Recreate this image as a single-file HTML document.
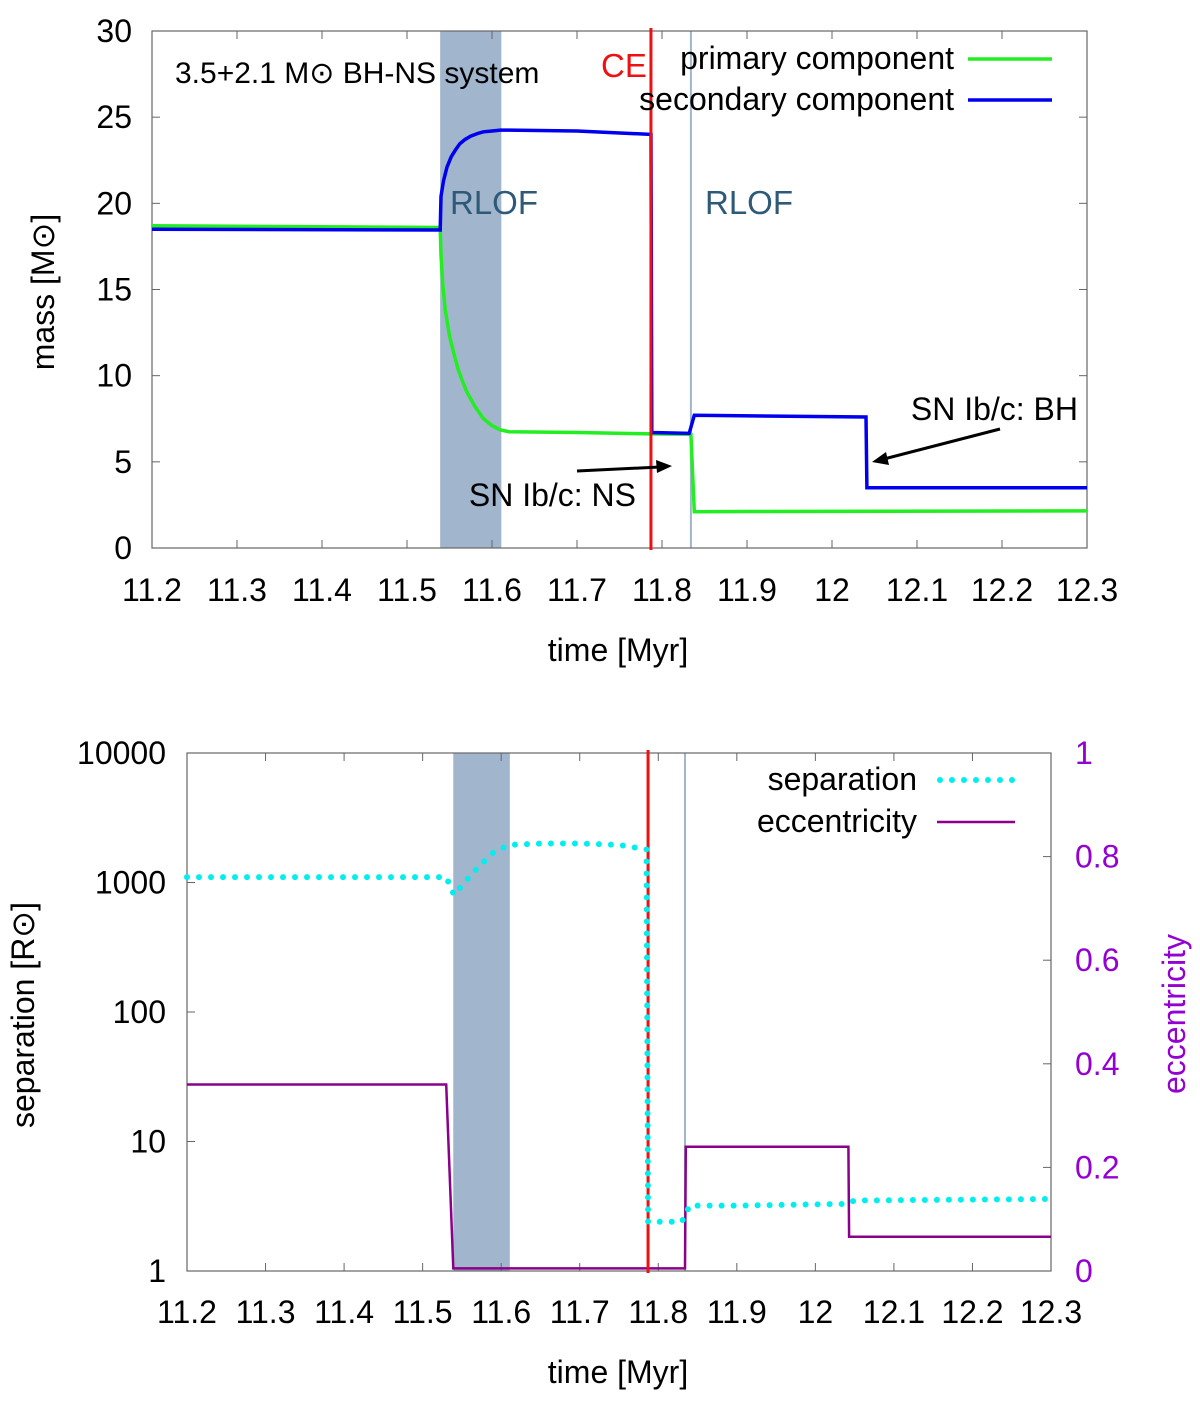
<!DOCTYPE html>
<html><head><meta charset="utf-8"><style>
body{margin:0;background:#fff}
svg text{font-family:"Liberation Sans",sans-serif}
</style></head><body>
<svg id="s" width="1200" height="1399" xmlns="http://www.w3.org/2000/svg"></svg>
<script>
// ---- data ----
const xTicks=[11.2,11.3,11.4,11.5,11.6,11.7,11.8,11.9,12,12.1,12.2,12.3];
const massTicks=[0,5,10,15,20,25,30];
const sepTicks=[1,10,100,1000,10000];
const eccTicks=[0,0.2,0.4,0.6,0.8,1];
const rlof1=[11.539,11.611];
const rlof2=11.834;
const ceTime=11.787;
const primT=[11.2,11.539,11.540,11.542,11.545,11.55,11.555,11.56,11.565,11.57,11.58,11.59,11.6,11.61,11.62,11.7,11.787,11.834,11.838,11.9,12.3];
const primM=[18.7,18.6,17.0,15.3,13.8,12.3,11.3,10.4,9.7,9.1,8.2,7.5,7.1,6.85,6.75,6.7,6.62,6.6,2.1,2.12,2.15];
const secT=[11.2,11.539,11.540,11.543,11.547,11.552,11.557,11.562,11.568,11.575,11.583,11.59,11.6,11.61,11.62,11.7,11.787,11.788,11.832,11.838,12.04,12.041,12.3];
const secM=[18.5,18.45,20.4,21.3,22.1,22.7,23.1,23.45,23.7,23.9,24.05,24.15,24.2,24.25,24.25,24.2,24.0,6.7,6.65,7.7,7.6,3.5,3.5];
const sepT=[11.2,11.53,11.54,11.55,11.57,11.59,11.61,11.65,11.7,11.75,11.785,11.787,11.83,11.84,11.9,12.04,12.05,12.3];
const sepV=[1100,1100,800,950,1300,1700,1950,2000,2000,1950,1800,2.4,2.4,3.2,3.2,3.3,3.5,3.6];
const eccT=[11.2,11.53,11.539,11.834,11.835,12.042,12.043,12.3];
const eccV=[0.36,0.36,0.005,0.005,0.24,0.24,0.066,0.066];

const NS="http://www.w3.org/2000/svg";const S=document.getElementById('s');
function el(tag,attrs,txt){const e=document.createElementNS(NS,tag);for(const k in attrs)e.setAttribute(k,attrs[k]);if(txt!==undefined)e.textContent=txt;S.appendChild(e);return e;}
const X1=t=>152+(t-11.2)*(1087-152)/1.1, Y1=m=>548-m*(548-31)/30;
const X2=t=>187+(t-11.2)*(1051-187)/1.1, Y2=v=>1271-Math.log10(v)*(1271-753)/4, E2=e=>1271-e*(1271-753);
function path(xs,ys,fx,fy){return xs.map((x,i)=>(i?'L':'M')+fx(x).toFixed(1)+','+fy(ys[i]).toFixed(1)).join('');}
const FS=32;

// ===== top panel =====
let r=el('rect',{x:X1(rlof1[0]),y:31,width:X1(rlof1[1])-X1(rlof1[0]),height:517,fill:'#a1b5cd'});

r=el('line',{x1:X1(rlof2),x2:X1(rlof2),y1:31,y2:548,stroke:'#a1b5cd','stroke-width':2});

r=el('rect',{x:152,y:31,width:935,height:517,fill:'none',stroke:'#666','stroke-width':1.2});

xTicks.forEach(t=>{el('line',{x1:X1(t),x2:X1(t),y1:548,y2:540,stroke:'#666'});el('line',{x1:X1(t),x2:X1(t),y1:31,y2:39,stroke:'#666'});
 const tx=el('text',{x:X1(t),y:601,'font-size':FS,'text-anchor':'middle'},String(t));});
massTicks.forEach(m=>{el('line',{x1:152,x2:160,y1:Y1(m),y2:Y1(m),stroke:'#666'});el('line',{x1:1087,x2:1079,y1:Y1(m),y2:Y1(m),stroke:'#666'});
 const tx=el('text',{x:132,y:Y1(m)+11,'font-size':FS,'text-anchor':'end'},String(m));});
r=el('path',{d:path(primT,primM,X1,Y1),fill:'none',stroke:'#22ee22','stroke-width':3.5});

r=el('path',{d:path(secT,secM,X1,Y1),fill:'none',stroke:'#0000ee','stroke-width':3.5});

r=el('line',{x1:X1(ceTime),x2:X1(ceTime),y1:28,y2:550,stroke:'#ee1111','stroke-width':3});

r=el('text',{x:175,y:83,'font-size':30},'3.5+2.1 M\u2299 BH-NS system');
r=el('text',{x:601,y:77,'font-size':33,fill:'#ee1111'},'CE');
r=el('text',{x:450,y:214,'font-size':33,fill:'#2e5a78'},'RLOF');
r=el('text',{x:705,y:214,'font-size':33,fill:'#2e5a78'},'RLOF');
r=el('text',{x:954,y:69,'font-size':FS,'text-anchor':'end'},'primary component');
el('line',{x1:968,x2:1052,y1:59,y2:59,stroke:'#22ee22','stroke-width':3.5});
r=el('text',{x:954,y:110,'font-size':FS,'text-anchor':'end'},'secondary component');
el('line',{x1:968,x2:1052,y1:100,y2:100,stroke:'#0000ee','stroke-width':3.5});
r=el('text',{x:636,y:506,'font-size':FS,'text-anchor':'end'},'SN Ib/c: NS');
el('line',{x1:577,y1:471,x2:660,y2:467,stroke:'#000','stroke-width':3});el('polygon',{points:'672,466 656,460 657,473',fill:'#000'});
r=el('text',{x:1078,y:420,'font-size':FS,'text-anchor':'end'},'SN Ib/c: BH');
el('line',{x1:1000,y1:429,x2:884,y2:459,stroke:'#000','stroke-width':3});el('polygon',{points:'872,462 886,452 889,465',fill:'#000'});
r=el('text',{x:618,y:661,'font-size':FS,'text-anchor':'middle'},'time [Myr]');
r=el('text',{x:0,y:0,'font-size':FS,'text-anchor':'middle',transform:'translate(54,292) rotate(-90)'},'mass [M\u2299]');

// ===== bottom panel =====
r=el('rect',{x:X2(rlof1[0]),y:753,width:X2(rlof1[1])-X2(rlof1[0]),height:518,fill:'#a1b5cd'});

r=el('line',{x1:X2(rlof2),x2:X2(rlof2),y1:753,y2:1271,stroke:'#a1b5cd','stroke-width':2});

r=el('rect',{x:187,y:753,width:864,height:518,fill:'none',stroke:'#666','stroke-width':1.2});

xTicks.forEach(t=>{el('line',{x1:X2(t),x2:X2(t),y1:1271,y2:1263,stroke:'#666'});el('line',{x1:X2(t),x2:X2(t),y1:753,y2:761,stroke:'#666'});
 const tx=el('text',{x:X2(t),y:1323,'font-size':FS,'text-anchor':'middle'},String(t));});
sepTicks.forEach(v=>{el('line',{x1:187,x2:195,y1:Y2(v),y2:Y2(v),stroke:'#666'});
 const tx=el('text',{x:166,y:Y2(v)+11,'font-size':FS,'text-anchor':'end'},String(v));});
eccTicks.forEach(e=>{el('line',{x1:1051,x2:1043,y1:E2(e),y2:E2(e),stroke:'#666'});
 const tx=el('text',{x:1075,y:E2(e)+11,'font-size':FS,fill:'#9400d3'},String(e));});
r=el('path',{d:path(eccT,eccV,X2,E2),fill:'none',stroke:'#8b008b','stroke-width':2.5});

r=el('line',{x1:X2(ceTime),x2:X2(ceTime),y1:750,y2:1273,stroke:'#ee1111','stroke-width':3});

r=el('path',{d:path(sepT,sepV,X2,Y2),fill:'none',stroke:'#00eeee','stroke-width':6,'stroke-linecap':'round','stroke-dasharray':'0 12'});

r=el('text',{x:917,y:790,'font-size':FS,'text-anchor':'end'},'separation');
el('line',{x1:940,x2:1015,y1:780,y2:780,stroke:'#00eeee','stroke-width':6,'stroke-linecap':'round','stroke-dasharray':'0 12'});
r=el('text',{x:917,y:832,'font-size':FS,'text-anchor':'end'},'eccentricity');
el('line',{x1:937,x2:1015,y1:822,y2:822,stroke:'#8b008b','stroke-width':2.5});
r=el('text',{x:618,y:1383,'font-size':FS,'text-anchor':'middle'},'time [Myr]');
r=el('text',{x:0,y:0,'font-size':FS,'text-anchor':'middle',transform:'translate(34,1015) rotate(-90)'},'separation [R\u2299]');
r=el('text',{x:0,y:0,'font-size':FS,'text-anchor':'middle',fill:'#9400d3',transform:'translate(1185,1014) rotate(-90)'},'eccentricity');
</script>
</body></html>
